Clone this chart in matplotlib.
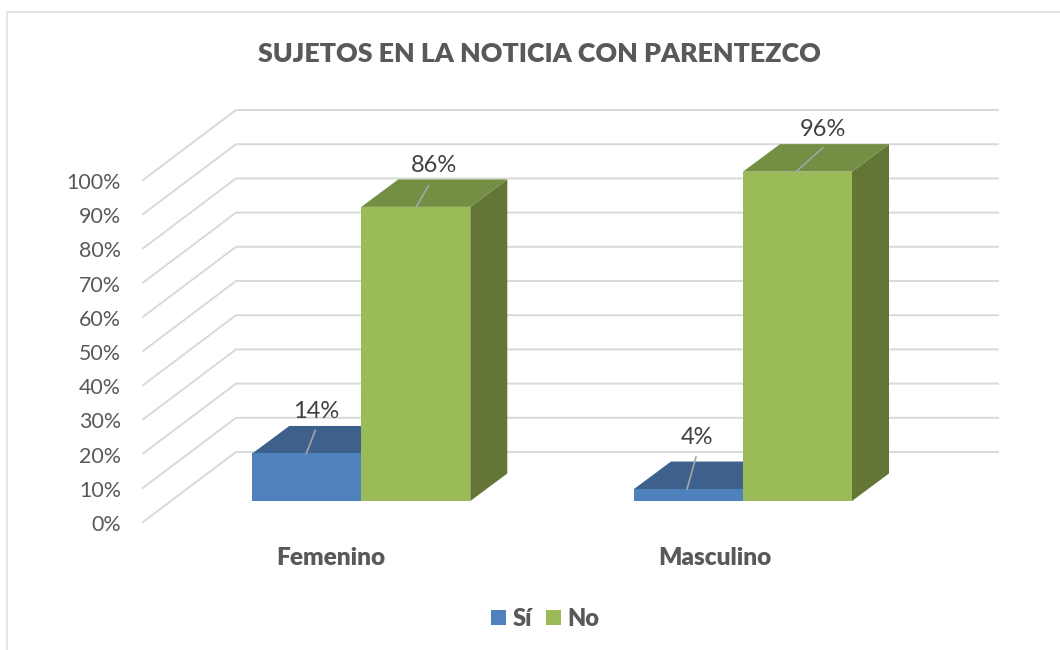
# Recreate 3D-look column chart

import matplotlib
matplotlib.use("Agg")
import matplotlib.pyplot as plt
from matplotlib.patches import Polygon, Patch

categories = ["Femenino", "Masculino"]
series_names = ["Sí", "No"]
si_values = [13.9, 3.5]
no_values = [86.0, 96.3]
si_labels = ["14%", "4%"]
no_labels = ["86%", "96%"]
ticks = [0, 10, 20, 30, 40, 50, 60, 70, 80, 90, 100]

BLUE = ("#4f81bd", "#3d618c", "#3d618c")
GREEN = ("#9bbb59", "#748e43", "#647635")

# pixel geometry of the fake 3D box
UNIT = 3.42
FRONT_X, FRONT_Y = 143, 522
BACK_X, BACK_Y = 236, 452
RIGHT_X = 998
BASE_Y = 501
DX, DY = 37, 27.5
BAR_W = 109
SI_LEFT = [252.3, 634]
CATEGORY_X = [330.5, 714.5]

plt.rcParams["font.family"] = ["Lato", "DejaVu Sans"]

fig = plt.figure(figsize=(10.6, 6.5), dpi=100)
ax = fig.add_axes([0, 0, 1, 1])
ax.set_xlim(0, 1060)
ax.set_ylim(650, 0)
ax.axis("off")

# chart frame
ax.plot([7, 7, 1060], [650, 12, 12], color="#e0e0e0", lw=1.2)


def draw_bar(left, value, colors):
    front, top, side = colors
    y = BASE_Y - value * UNIT
    r = left + BAR_W
    ax.add_patch(Polygon([(r, BASE_Y), (r + DX, BASE_Y - DY), (r + DX, y - DY), (r, y)], fc=side, ec="none", zorder=3))
    ax.add_patch(Polygon([(left, y), (r, y), (r + DX, y - DY), (left + DX, y - DY)], fc=top, ec="none", zorder=3))
    ax.add_patch(Polygon([(left, BASE_Y), (r, BASE_Y), (r, y), (left, y)], fc=front, ec="none", zorder=3))


# gridlines and axis labels
for t in ticks:
    off = t * UNIT
    ax.plot([FRONT_X, BACK_X, RIGHT_X], [FRONT_Y - off, BACK_Y - off, BACK_Y - off],
            color="#d9d9d9", lw=1.4, zorder=1)
    ax.text(121, FRONT_Y - off + 3, f"{t}%", ha="right", va="center", fontsize=15.4, color="#595959")

# bars
for i in range(len(categories)):
    draw_bar(SI_LEFT[i], si_values[i], BLUE)
    draw_bar(SI_LEFT[i] + BAR_W, no_values[i], GREEN)
    ax.text(CATEGORY_X[i], 558, categories[i], ha="center", va="center",
            fontsize=17.6, fontweight="heavy", color="#595959")

# data labels with leader lines
leaders = [(54, 23, 9, 412, 63.5), (55, 21, 12, 165, 72.5), (53, 32, 9, 438, 63), (53, 24, 27, 130, 80)]
points = [(SI_LEFT[0], si_values[0]), (SI_LEFT[0] + BAR_W, no_values[0]),
          (SI_LEFT[1], si_values[1]), (SI_LEFT[1] + BAR_W, no_values[1])]
texts = [si_labels[0], no_labels[0], si_labels[1], no_labels[1]]
for (left, value), txt, (dx, rise, run, label_y, label_dx) in zip(points, texts, leaders):
    x0 = left + dx
    y0 = BASE_Y - value * UNIT
    ax.plot([x0, x0 + run], [y0, y0 - rise], color="#a6a6a6", lw=1.2, zorder=4)
    ax.text(left + label_dx, label_y, txt, ha="center", va="center", fontsize=17, color="#404040", zorder=5)

ax.text(539.5, 54, "SUJETOS EN LA NOTICIA CON PARENTEZCO", ha="center", va="center",
        fontsize=19.3, fontweight="heavy", color="#595959")

handles = [Patch(fc=BLUE[0], label=series_names[0]), Patch(fc=GREEN[0], label=series_names[1])]
leg = ax.legend(handles=handles, loc="center", bbox_to_anchor=(545.5 / 1060, 1 - 619 / 650), ncol=2, frameon=False,
                handlelength=0.62, handleheight=0.62, handletextpad=0.28, columnspacing=0.6,
                prop={"size": 17, "weight": "heavy"})
for t in leg.get_texts():
    t.set_color("#595959")

plt.savefig("out.png", dpi=100)
plt.close()
